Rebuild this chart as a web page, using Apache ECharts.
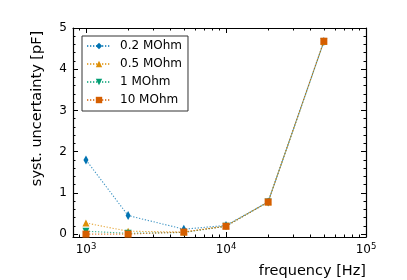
<!DOCTYPE html>
<html><head><meta charset="utf-8">
<script src="https://cdn.jsdelivr.net/npm/echarts@6/dist/echarts.min.js"></script>
<style>html,body{margin:0;padding:0;background:#fff}#c{width:407px;height:280px}</style>
</head><body><div id="c"></div>
<script>
const freqs = [1000, 2000, 5000, 10000, 20000, 50000];
const r02 = [1.80, 0.45, 0.12, 0.21, 0.78, 4.67];
const r05 = [0.27, 0.07, 0.05, 0.20, 0.78, 4.67];
const r1  = [0.07, 0.02, 0.04, 0.19, 0.78, 4.67];
const r10 = [0.00, 0.00, 0.05, 0.19, 0.78, 4.68];
const seriesNames = ['0.2 MOhm', '0.5 MOhm', '1 MOhm', '10 MOhm'];
const colors = ['#0173b2', '#de8f05', '#029e73', '#d55e00'];
const xMajor = [1000, 10000, 100000];
const xMinor = [900, 2000, 3000, 4000, 5000, 6000, 7000, 8000, 9000, 20000, 30000, 40000, 50000, 60000, 70000, 80000, 90000];
const yMajor = [0, 1, 2, 3, 4, 5];
const yMinor = [0, 0.2, 0.4, 0.6, 0.8, 1, 1.2, 1.4, 1.6, 1.8, 2, 2.2, 2.4, 2.6, 2.8, 3, 3.2, 3.4, 3.6, 3.8, 4, 4.2, 4.4, 4.6, 4.8, 5];

const FONT = 'DejaVu Sans';
const chart = echarts.init(document.getElementById('c'), null, {renderer: 'canvas'});
function xAx(pos, minor, showLine, label) {
  return {
    type: 'log', logBase: 10, min: 808, max: 100000, position: pos,
    axisLine: {show: showLine, onZero: false, lineStyle: {color: '#000', width: 1.2}},
    splitLine: {show: false},
    axisTick: {show: true, inside: true, length: minor ? 2.5 : 5, customValues: minor ? xMinor : xMajor, lineStyle: {color: '#000', width: 1}},
    axisLabel: label ? {
      show: true, customValues: xMajor, margin: 5,
      formatter: v => '{b|10}{s|' + Math.round(Math.log10(v)) + '}',
      rich: {b: {fontFamily: FONT, fontSize: 12, color: '#000'}, s: {fontFamily: FONT, fontSize: 8.5, color: '#000', padding: [0, 0, 7, 0]}}
    } : {show: false},
    name: label ? 'frequency [Hz]' : '',
    nameLocation: 'end', nameGap: 0,
    nameTextStyle: {fontFamily: FONT, fontSize: 14.5, color: '#000', align: 'right', verticalAlign: 'top', padding: [27, 0, 0, 0]}
  };
}
function yAx(pos, minor, showLine, label) {
  return {
    type: 'value', min: -0.07, max: 5, position: pos,
    axisLine: {show: showLine, onZero: false, lineStyle: {color: '#000', width: 1.2}},
    splitLine: {show: false},
    axisTick: {show: true, inside: true, length: minor ? 2.5 : 5, customValues: minor ? yMinor : yMajor, lineStyle: {color: '#000', width: 1}},
    axisLabel: label ? {show: true, customValues: yMajor, margin: 6, fontFamily: FONT, fontSize: 12, color: '#000'} : {show: false},
    name: label ? 'syst. uncertainty [pF]' : '',
    nameLocation: 'middle', nameGap: 28, nameRotate: 90,
    nameTextStyle: {fontFamily: FONT, fontSize: 14.5, color: '#000', padding: [0, 0, 0, 48]}
  };
}
const symbols = [
  {symbol: 'diamond', symbolSize: [5, 9]},
  {symbol: 'triangle', symbolSize: 7},
  {symbol: 'triangle', symbolSize: 7, symbolRotate: 180},
  {symbol: 'rect', symbolSize: 7}
];
const dataSets = [r02, r05, r1, r10];
const series = dataSets.map((d, i) => Object.assign({
  name: seriesNames[i], type: 'line', xAxisIndex: 0, yAxisIndex: 0,
  data: freqs.map((f, j) => [f, d[j]]),
  lineStyle: {type: [1.3, 1.7], width: 1.1, color: colors[i], opacity: 0.75},
  itemStyle: {color: colors[i]},
  z: 2 + i, animation: false
}, symbols[i]));

chart.setOption({
  animation: false,
  grid: {left: 73, right: 41, top: 28, bottom: 43, containLabel: false},
  xAxis: [xAx('bottom', false, true, true), xAx('bottom', true, false, false), xAx('top', false, true, false), xAx('top', true, false, false)],
  yAxis: [yAx('left', false, true, true), yAx('left', true, false, false), yAx('right', false, true, false), yAx('right', true, false, false)],
  legend: {
    show: true, orient: 'vertical', left: 82, top: 36,
    data: seriesNames,
    itemWidth: 24, itemHeight: 8, itemGap: 4,
    padding: [3, 6, 4, 4],
    borderColor: '#333', borderWidth: 1, borderRadius: 0,
    backgroundColor: '#fff',
    textStyle: {fontFamily: FONT, fontSize: 12, color: '#000', lineHeight: 14, padding: [0, 0, 0, 4]}
  },
  series: series
});
</script></body></html>
